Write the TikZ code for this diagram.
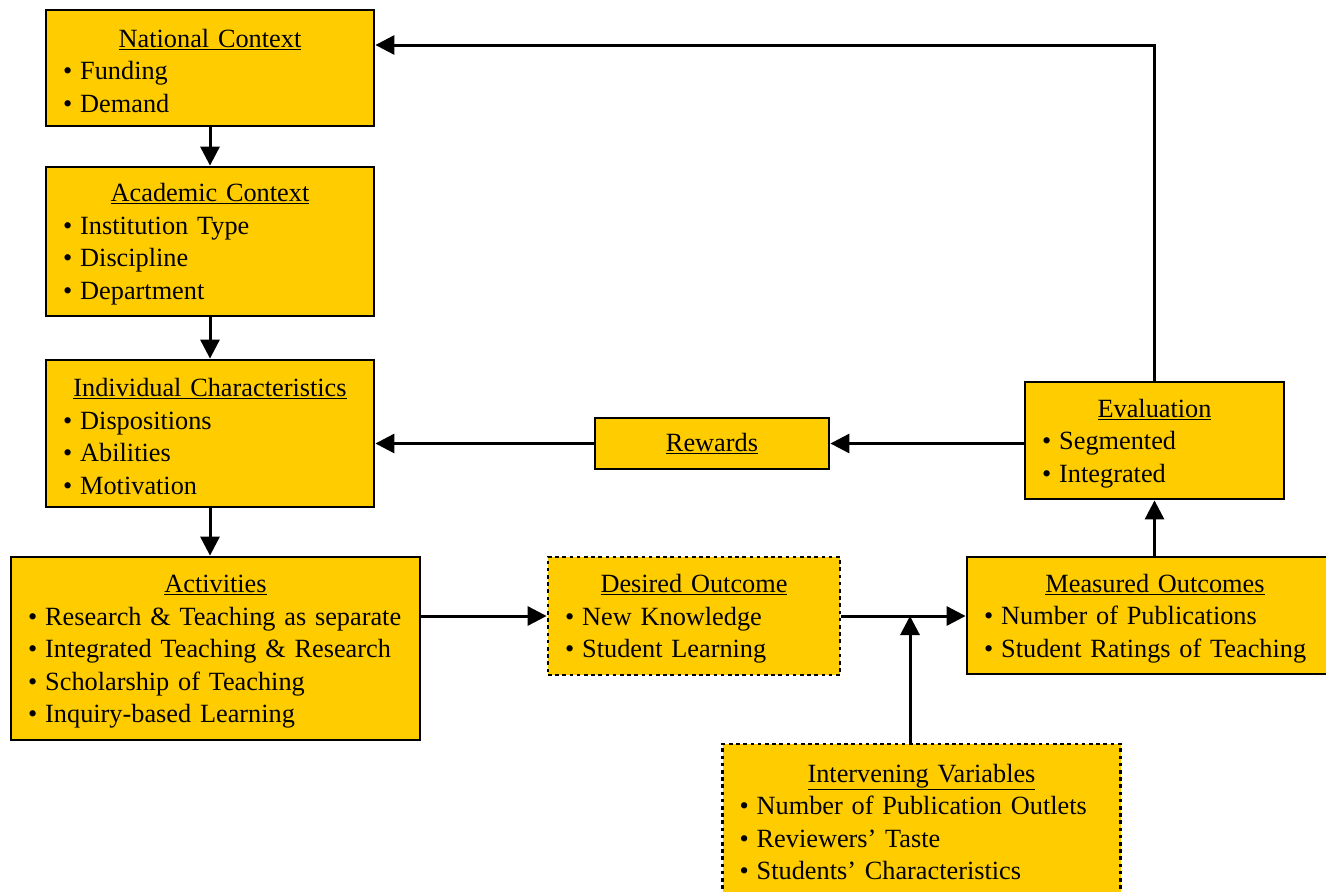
\documentclass[tikz,border=0pt]{standalone}
\usepackage{fontspec}
\setmainfont{Liberation Serif}
\usetikzlibrary{arrows.meta,positioning}

\newcommand{\hd}[1]{\makebox[\hsize][c]{\rule{0pt}{24pt}\underline{#1}}}
\newcommand{\itm}{\textbullet\hspace{8pt}}
\hyphenpenalty=10000

\begin{document}
\begin{tikzpicture}[
  x=1pt, y=-1pt,
  box/.style={draw, line width=2.8pt, fill=gold, inner xsep=17pt, inner ysep=0pt,
    align=left, font=\fontsize{26.3}{32.5}\selectfont},
  dotbox/.style={box, dash pattern=on 3.6pt off 3.6pt},
  arr/.style={draw, line width=3pt, -{Triangle[length=19pt,width=19pt]}}
]
\definecolor{gold}{HTML}{FFCC00}
\useasboundingbox (0,0) rectangle (1326,892);

\node[box, text width=294pt, minimum height=116pt] (national) at (210,68)
  {\hd{National Context}\\ \itm Funding\\ \itm Demand};
\node[box, text width=294pt, minimum height=149pt] (academic) at (210,241.5)
  {\hd{Academic Context}\\ \itm Institution Type\\ \itm Discipline\\ \itm Department};
\node[box, text width=294pt, minimum height=147pt] (individual) at (210,433.5)
  {\hd{Individual Characteristics}\\ \itm Dispositions\\ \itm Abilities\\ \itm Motivation};
\node[box, text width=375pt, minimum height=183pt] (activities) at (215.5,648.5)
  {\hd{Activities}\\ \itm Research \& Teaching as separate\\ \itm Integrated Teaching \& Research\\
   \itm Scholarship of Teaching\\ \itm Inquiry-based Learning};
\node[dotbox, text width=258pt, minimum height=118pt] (desired) at (694,616)
  {\hd{Desired Outcome}\\ \itm New Knowledge\\ \itm Student Learning};
\node[box, text width=342pt, minimum height=117pt] (measured) at (1155,615.5)
  {\hd{Measured Outcomes}\\ \itm Number of Publications\\ \itm Student Ratings of Teaching};
\node[box, text width=225pt, minimum height=117pt] (evaluation) at (1154.5,440.5)
  {\hd{Evaluation}\\ \itm Segmented\\ \itm Integrated};
\node[box, text width=200pt, minimum height=51pt, align=center] (rewards) at (712,443.5)
  {\underline{Rewards}};
\node[dotbox, text width=364pt, minimum height=150pt] (intervening) at (921.5,819)
  {\hd{Intervening Variables}\\ \itm Number of Publication Outlets\\ \itm Reviewers' Taste\\
   \itm Students' Characteristics};

\coordinate (feed) at ([xshift=-11.5pt]intervening.north);
\coordinate (join) at (feed |- desired.east);

\draw[arr] (national) -- (academic);
\draw[arr] (academic) -- (individual);
\draw[arr] (individual.south) -- (individual.south |- activities.north);
\draw[arr] (activities.east |- desired.west) -- (desired.west);
\draw[arr] (desired.east) -- (measured.west |- desired.east);
\draw[arr] (feed) -- (join);
\draw[arr] (measured.north -| evaluation.south) -- (evaluation.south);
\draw[arr] (evaluation.west |- rewards.east) -- (rewards.east);
\draw[arr] (rewards.west) -- (individual.east |- rewards.west);
\draw[arr] (evaluation.north) |- ([yshift=23pt]national.east);
\end{tikzpicture}
\end{document}
